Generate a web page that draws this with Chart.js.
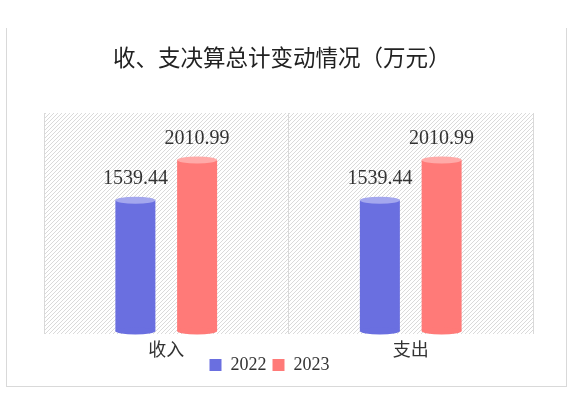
<!DOCTYPE html>
<html lang="zh">
<head>
<meta charset="UTF-8">
<title>收、支决算总计变动情况（万元）</title>
<script src="https://cdn.jsdelivr.net/npm/chart.js"></script>
<style>
  body { margin: 0; background: #fff; }
  #box {
    position: absolute;
    left: 6px;
    top: 28px;
    width: 561px;
    height: 359px;
    box-sizing: border-box;
    border-left: 1px solid #d9d9d9;
    border-right: 1px solid #d9d9d9;
    border-bottom: 1px solid #d9d9d9;
  }
</style>
</head>
<body>
<div id="box"><canvas id="chart"></canvas></div>
<script>
const chartTitle = '收、支决算总计变动情况（万元）';
const categories = ['收入', '支出'];
const seriesNames = ['2022', '2023'];
const values2022 = [1539.44, 1539.44];
const values2023 = [2010.99, 2010.99];

const FONT = '"Liberation Serif", "Noto Sans CJK SC", serif';
const TEXT = '#333333';

// diagonal hatch for the plot background
function makeHatch() {
  const c = document.createElement('canvas');
  c.width = 4; c.height = 4;
  const g = c.getContext('2d');
  g.strokeStyle = '#dadada';
  g.lineWidth = 1;
  g.beginPath();
  g.moveTo(-1, 5); g.lineTo(5, -1);
  g.moveTo(-1, 1); g.lineTo(1, -1);
  g.moveTo(3, 5); g.lineTo(5, 3);
  g.stroke();
  return c;
}

const cylinder = {
  id: 'cylinder',
  afterLayout(chart) {
    // let the category labels hang below the (short) axis box without clipping
    chart.scales.x.bottom += 30;
    // legend sits a bit left of the plot centre
    chart.legend.right -= 38;
  },
  beforeDraw(chart) {
    const {ctx, chartArea: a} = chart;
    ctx.save();
    ctx.fillStyle = ctx.createPattern(makeHatch(), 'repeat');
    ctx.fillRect(a.left, a.top, a.right - a.left, a.bottom - a.top);
    ctx.restore();
  },
  afterDatasetsDraw(chart) {
    const ctx = chart.ctx;
    chart.data.datasets.forEach((ds, i) => {
      chart.getDatasetMeta(i).data.forEach((bar, j) => {
        const rx = bar.width / 2, ry = 3.5;
        ctx.save();
        ctx.fillStyle = ds.backgroundColor;
        ctx.beginPath();
        ctx.ellipse(bar.x, bar.base, rx, ry, 0, 0, Math.PI * 2);
        ctx.fill();
        ctx.fillStyle = ds.capColor;
        ctx.beginPath();
        ctx.ellipse(bar.x, bar.y, rx, ry, 0, 0, Math.PI * 2);
        ctx.fill();
        // value label
        ctx.fillStyle = TEXT;
        ctx.font = '20px ' + FONT;
        ctx.textAlign = 'center';
        ctx.textBaseline = 'middle';
        ctx.fillText(ds.data[j].toFixed(2), bar.x, bar.y - 21);
        ctx.restore();
      });
    });
  },
  afterDraw(chart) {
    const ctx = chart.ctx;
    ctx.save();
    ctx.fillStyle = '#222222';
    ctx.font = '22.5px "Noto Sans CJK SC", sans-serif';
    ctx.textAlign = 'left';
    ctx.textBaseline = 'middle';
    ctx.fillText(chartTitle, 106, 29);
    ctx.restore();
  }
};

new Chart(document.getElementById('chart'), {
  type: 'bar',
  data: {
    labels: categories,
    datasets: [
      {
        label: seriesNames[0],
        data: values2022,
        backgroundColor: '#6a6fe0',
        capColor: '#a4a7ee',
        borderWidth: 0,
        categoryPercentage: 0.505,
        barPercentage: 0.648
      },
      {
        label: seriesNames[1],
        data: values2023,
        backgroundColor: '#ff7a78',
        capColor: '#ffaaa8',
        borderWidth: 0,
        categoryPercentage: 0.505,
        barPercentage: 0.648
      }
    ]
  },
  options: {
    responsive: true,
    maintainAspectRatio: false,
    animation: false,
    events: [],
    layout: { padding: { top: 85, left: 37, right: 33, bottom: 2 } },
    plugins: {
      title: { display: false },
      tooltip: { enabled: false },
      legend: {
        position: 'bottom',
        labels: {
          boxWidth: 12,
          boxHeight: 12,
          padding: 6,
          color: TEXT,
          font: { family: FONT, size: 18 }
        }
      }
    },
    scales: {
      x: {
        grid: { color: '#d9d9d9', drawTicks: false, offset: true },
        border: { display: false },
        ticks: {
          color: TEXT,
          padding: 15,
          font: { family: FONT, size: 18, lineHeight: '5px' }
        },
        // labels sit lower than the axis box; the legend tucks in under them
        afterFit(scale) { scale.height = 16; }
      },
      y: {
        display: false,
        min: -35,
        max: 2565
      }
    }
  },
  plugins: [cylinder]
});
</script>
</body>
</html>
